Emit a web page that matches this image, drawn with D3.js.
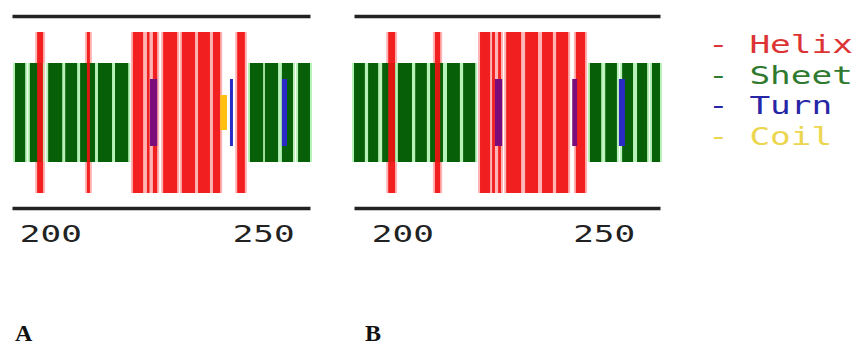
<!DOCTYPE html>
<html><head><meta charset="utf-8">
<script src="https://cdn.jsdelivr.net/npm/d3@7"></script>
<style>html,body{margin:0;padding:0;background:#fff;} svg{display:block;background:#fff}</style>
</head><body><svg id="c" width="854" height="349"></svg>
<script>
// ---- data (residue positions) ----
const states = ["Helix", "Sheet", "Turn", "Coil"];
const stateLevels = [1, 0.615, 0.416, 0.217];
const tickValues = [200, 250];
const panelLabels = ["A", "B"];

const helixA = [[196.9,198.3],[208.6,209.3],[219.4,221.8],[222.7,223.3],[224.1,225.1],[226.5,229.8],[230.9,234.0],[234.7,237.5],[238.2,239.9],[243.9,245.7]];
const sheetA = [[191.7,194.1],[195.2,198.1],[199.5,202.8],[203.5,206.3],[207.0,210.5],[211.2,214.5],[215.2,218.3],[246.9,250.0],[250.4,253.5],[254.4,257.0],[258.2,261.0]];
const turnA  = [[223.4,225.1],[242.2,242.9],[254.4,255.6]];
const coilA  = [[239.9,241.5]];

const helixB = [[196.5,198.2],[208.1,209.4],[219.3,221.8],[222.3,223.0],[223.8,224.5],[225.8,229.5],[230.5,233.7],[234.7,237.4],[238.2,241.2],[243.1,245.4]];
const sheetB = [[188.0,190.7],[191.5,194.0],[195.0,198.2],[198.9,202.4],[203.2,206.1],[206.9,210.1],[211.1,214.3],[215.1,218.1],[246.6,249.4],[250.4,253.3],[254.6,257.3],[258.3,260.8],[262.0,264.0]];
const turnB  = [[223.0,224.8],[242.2,243.4],[253.8,255.3]];
const coilB  = [];

const domainA = [191, 261];
const domainB = [188, 264];

// ---- layout / style ----
const svg = d3.select("#c");
const colors = {Helix:"#f01212", Sheet:"#075f07", Turn:"#2a2ac4", Coil:"#ffbe10", TurnOnHelix:"#7a0c7c"};
const halo = {Helix:"#ffb4b4", Sheet:"#b8f2b8"};
const legendColors = {Helix:"#dc3434", Sheet:"#2f7a2f", Turn:"#2626a6", Coil:"#ecd650"};
const yLevel = d3.scaleLinear().domain([-1, 1]).range([193, 32]);
const mono = "'DejaVu Sans Mono','Liberation Mono',monospace";

const panels = [
  {label: panelLabels[0], domain: domainA, range: [12, 310], helix: helixA, sheet: sheetA, turn: turnA, coil: coilA, labelX: 15},
  {label: panelLabels[1], domain: domainB, range: [354, 660], helix: helixB, sheet: sheetB, turn: turnB, coil: coilB, labelX: 365}
];

function level(state){ return stateLevels[states.indexOf(state)]; }

panels.forEach(p => {
  const x = d3.scaleLinear().domain(p.domain).range(p.range);
  const g = svg.append("g");

  // halos
  [["Helix", p.helix], ["Sheet", p.sheet]].forEach(([s, arr]) => {
    const l = level(s);
    g.append("g").selectAll("rect").data(arr).join("rect")
      .attr("x", d => x(d[0]) - 2)
      .attr("width", d => x(d[1]) - x(d[0]) + 4)
      .attr("y", yLevel(l)).attr("height", yLevel(-l) - yLevel(l))
      .attr("fill", halo[s]);
  });
  // sheet bars
  const ls = level("Sheet");
  g.append("g").selectAll("rect").data(p.sheet).join("rect")
    .attr("x", d => x(d[0])).attr("width", d => x(d[1]) - x(d[0]))
    .attr("y", yLevel(ls)).attr("height", yLevel(-ls) - yLevel(ls))
    .attr("fill", colors.Sheet);
  // helix bars
  const lh = level("Helix");
  g.append("g").selectAll("rect").data(p.helix).join("rect")
    .attr("x", d => x(d[0])).attr("width", d => x(d[1]) - x(d[0]))
    .attr("y", yLevel(lh)).attr("height", yLevel(-lh) - yLevel(lh))
    .attr("fill", colors.Helix).attr("fill-opacity", 0.92);
  // coil
  const lc = level("Coil");
  g.append("g").selectAll("rect").data(p.coil).join("rect")
    .attr("x", d => x(d[0])).attr("width", d => x(d[1]) - x(d[0]))
    .attr("y", yLevel(lc)).attr("height", yLevel(-lc) - yLevel(lc))
    .attr("fill", colors.Coil);
  // turn
  const lt = level("Turn");
  const onHelix = d => p.helix.some(h => d[0] < h[1] - 0.2 && d[1] > h[0] + 0.2);
  g.append("g").selectAll("rect").data(p.turn).join("rect")
    .attr("x", d => x(d[0])).attr("width", d => x(d[1]) - x(d[0]))
    .attr("y", yLevel(lt)).attr("height", yLevel(-lt) - yLevel(lt))
    .attr("fill", d => onHelix(d) ? colors.TurnOnHelix : colors.Turn);

  // top line
  const top = g.append("g").attr("transform", "translate(0,16)")
    .call(d3.axisBottom(x).tickValues([]).tickSizeOuter(0));
  top.select(".domain").attr("stroke", "#222").attr("stroke-width", 3.5);

  // bottom axis
  const ax = g.append("g").attr("transform", "translate(0,208)")
    .call(d3.axisBottom(x).tickValues(tickValues).tickSize(0).tickSizeOuter(0).tickFormat(d3.format("d")));
  ax.select(".domain").attr("stroke", "#222").attr("stroke-width", 3.5);
  ax.selectAll(".tick line").remove();
  ax.selectAll(".tick text")
    .attr("y", 34).attr("dy", null)
    .attr("font-family", mono).attr("font-size", 23)
    .attr("fill", "#222")
    .attr("textLength", 62).attr("lengthAdjust", "spacingAndGlyphs");

  // panel label
  svg.append("text").attr("x", p.labelX).attr("y", 341)
    .attr("font-family", "'Liberation Serif','Times New Roman',serif")
    .attr("font-weight", "bold").attr("font-size", 24).attr("fill", "#111")
    .text(p.label);
});

// legend
const leg = svg.append("g");
states.forEach((s, i) => {
  const t = "- " + s;
  leg.append("text")
    .attr("x", 708).attr("y", 53 + i * 30.7)
    .attr("font-family", mono).attr("font-size", 24)
    .attr("fill", legendColors[s])
    .attr("textLength", t.length * 20.7).attr("lengthAdjust", "spacingAndGlyphs")
    .text(t);
});
</script>
</body></html>
